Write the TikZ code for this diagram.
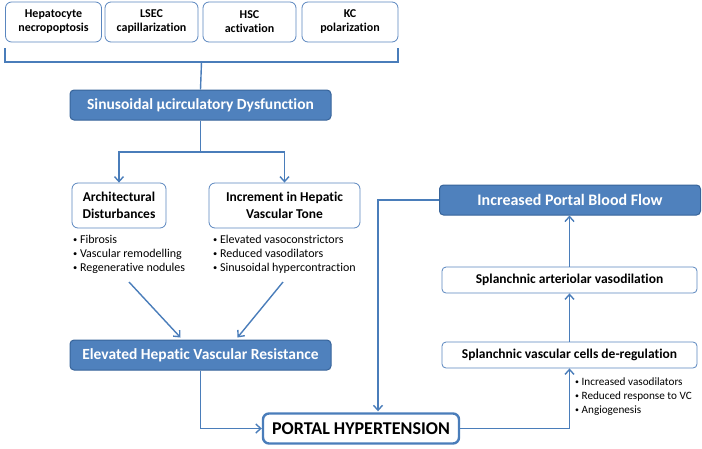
\documentclass[tikz,border=0pt]{standalone}
\usepackage{fontspec}
\setmainfont{Carlito}[Ligatures=NoCommon]
\usetikzlibrary{arrows.meta,calc}
\definecolor{bfill}{HTML}{4F81BD}
\definecolor{bdark}{HTML}{37649A}
\definecolor{bline}{HTML}{4A7DBA}
\definecolor{wbord}{HTML}{5A86BF}
\tikzset{
  wbox/.style={draw=wbord, line width=0.8pt, rounded corners=6pt, fill=white, align=center, font=\bfseries, inner sep=1pt},
  topbox/.style={wbox, minimum height=40, font=\fontsize{12}{14}\selectfont\bfseries},
  bbox/.style={draw=bdark, line width=1pt, rounded corners=4pt, fill=bfill, text=white, align=center, inner sep=1pt},
  conn/.style={draw=bline, line width=1.4pt},
  arr/.style={conn, -{Straight Barb[length=5pt,width=9pt,line width=1.4pt]}},
  blist/.style={anchor=north west, align=left, font=\fontsize{12}{14}\selectfont, inner sep=0pt},
}
\newcommand{\bul}{\raisebox{0.15ex}{\scalebox{0.7}{\textbullet}}~}
\begin{document}
\begin{tikzpicture}[x=1pt,y=-1pt]
\useasboundingbox (0,0) rectangle (702,448);
% top boxes
\node[topbox, minimum width=96] (t1) at (53.5,22) {Hepatocyte\\necropoptosis};
\node[topbox, minimum width=93] (t2) at (151.5,22) {LSEC\\capillarization};
\node[topbox, minimum width=93] (t3) at (249.5,22) {HSC\\activation};
\node[topbox, minimum width=96] (t4) at (350,22) {KC\\polarization};
% bracket
\coordinate (bl) at (5,48);
\coordinate (br) at (398,48);
\coordinate (bm) at (201.5,62);
\draw[conn] (bl) -- (bl |- bm) -- (br |- bm) -- (br);
% dysfunction
\node[bbox, minimum width=261, minimum height=30, font=\fontsize{15.5}{17}\selectfont\bfseries] (dys) at (200.5,105) {Sinusoidal µcirculatory Dysfunction};
\draw[conn] (bm) -- (dys.north);
% branches
\node[wbox, minimum width=94, minimum height=45, font=\fontsize{13.5}{16.5}\selectfont\bfseries] (arch) at (119,205.5) {Architectural\\Disturbances};
\node[wbox, minimum width=151, minimum height=45, font=\fontsize{13.5}{16.5}\selectfont\bfseries] (inc) at (284.5,205.5) {Increment in Hepatic\\Vascular Tone};
\coordinate (split) at (200.5,152);
\draw[conn] (dys.south) -- (split);
\draw[arr] (split) -| (arch.north);
\draw[arr] (split) -| (inc.north);
% bullet lists
\node[blist] (al) at (73,235) {\bul Fibrosis\\\bul Vascular remodelling\\\bul Regenerative nodules};
\node[blist] (il) at (213,235) {\bul Elevated vasoconstrictors\\\bul Reduced vasodilators\\\bul Sinusoidal hypercontraction};
% elevated
\node[bbox, minimum width=261, minimum height=30, font=\fontsize{15.5}{17}\selectfont\bfseries] (ele) at (200.5,355) {Elevated Hepatic Vascular Resistance};
\coordinate (a1) at (129,282);
\coordinate (a2) at (283,282);
\draw[arr] (a1) -- ($(ele.north)+(-20,-2)$);
\draw[arr] (a2) -- ($(ele.north)+(37,-2)$);
% portal
\node[draw=bline, line width=2.4pt, rounded corners=6pt, fill=white, minimum width=196, minimum height=30, font=\fontsize{18}{20}\selectfont\bfseries, inner sep=1pt] (portal) at (361,428.5) {PORTAL HYPERTENSION};
\draw[arr] (ele.south) |- (portal.west);
% right column
\node[bbox, minimum width=261, minimum height=30, font=\fontsize{16}{18}\selectfont\bfseries] (incr) at (570,200) {Increased Portal Blood Flow};
\node[wbox, minimum width=255, minimum height=26, rounded corners=4pt, font=\fontsize{13.5}{15}\selectfont\bfseries] (art) at (569.5,280) {Splanchnic arteriolar vasodilation};
\node[wbox, minimum width=255, minimum height=26, rounded corners=4pt, font=\fontsize{13.5}{15}\selectfont\bfseries] (der) at (569.5,355) {Splanchnic vascular cells de-regulation};
\node[blist, font=\fontsize{11.2}{14}\selectfont] (rl) at (575,377.5) {\bul Increased vasodilators\\\bul Reduced response to VC\\\bul Angiogenesis};
\draw[arr] (incr.west) -| ($(portal.north)+(17,-1)$);
\draw[arr] (portal.east) -| (der.south);
\draw[arr] (der.north) -- (art.south);
\draw[arr] (art.north) -- (art.north |- incr.south);
\end{tikzpicture}
\end{document}
